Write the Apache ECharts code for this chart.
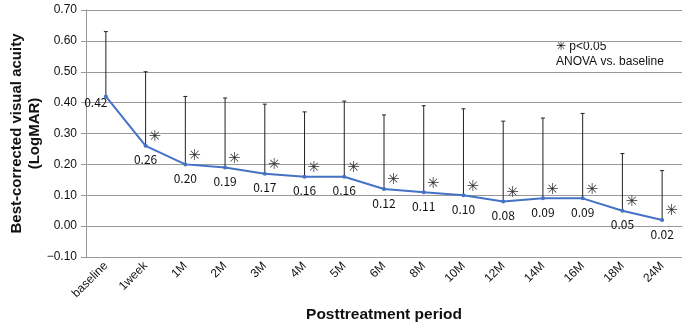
<!DOCTYPE html>
<html>
<head>
<meta charset="utf-8">
<script src="https://cdn.jsdelivr.net/npm/echarts@6/dist/echarts.min.js"></script>
<style>html,body{margin:0;padding:0;background:#fff}#c{width:685px;height:325px}</style>
</head>
<body>
<div id="c"></div>
<script>
var periods = ['baseline', '1week', '1M', '2M', '3M', '4M', '5M', '6M', '8M', '10M', '12M', '14M', '16M', '18M', '24M'];
var meanVA = [0.42, 0.26, 0.20, 0.19, 0.17, 0.16, 0.16, 0.12, 0.11, 0.10, 0.08, 0.09, 0.09, 0.05, 0.02];
var sdVA = [0.21, 0.24, 0.22, 0.225, 0.225, 0.21, 0.245, 0.24, 0.28, 0.28, 0.26, 0.26, 0.275, 0.185, 0.16];
var signif = [0, 1, 1, 1, 1, 1, 1, 1, 1, 1, 1, 1, 1, 1, 1];
var yTicks = [-0.1, 0.7, 0.1];

var myChart = echarts.init(document.getElementById('c'));
var errData = meanVA.map(function (v, i) { return [i, v, v + sdVA[i], signif[i]]; });

var option = {
  animation: false,
  textStyle: { fontFamily: 'Liberation Sans' },
  grid: { left: 86, right: 3, top: 10, bottom: 68, outerBoundsMode: 'none' },
  graphic: [{
    type: 'text', left: 556, top: 39,
    style: { text: '\u2733 p<0.05\nANOVA vs. baseline', font: '12px Liberation Sans', fill: '#111', lineHeight: 15 }
  }],
  xAxis: {
    type: 'category', data: periods,
    name: 'Posttreatment period', nameLocation: 'middle', nameGap: 48,
    nameTextStyle: { fontSize: 15.5, fontWeight: 'bold', color: '#111' },
    axisLine: { lineStyle: { color: '#999' } },
    axisTick: { lineStyle: { color: '#999' } },
    axisLabel: { rotate: 45, fontSize: 12, color: '#111', margin: 7 }
  },
  yAxis: {
    type: 'value', min: yTicks[0], max: yTicks[1], interval: yTicks[2],
    name: 'Best-corrected visual acuity\n(LogMAR)', nameLocation: 'middle', nameRotate: 90, nameGap: 42,
    nameMoveOverlap: false,
    nameTextStyle: { fontSize: 15, fontWeight: 'bold', color: '#111', lineHeight: 18 },
    axisLine: { show: true, lineStyle: { color: '#999' } },
    axisTick: { show: true, lineStyle: { color: '#999' } },
    splitLine: { lineStyle: { color: '#999' } },
    axisLabel: { fontSize: 12, color: '#111', margin: 9, formatter: function (v) { return v.toFixed(2).replace('-', '\u2212'); } }
  },
  series: [{
    type: 'custom',
    data: errData,
    z: 1,
    renderItem: function (params, api) {
      var p0 = api.coord([api.value(0), api.value(1)]);
      var p1 = api.coord([api.value(0), api.value(2)]);
      var kids = [
        { type: 'line', shape: { x1: p0[0], y1: p0[1], x2: p1[0], y2: p1[1] }, style: { stroke: '#222', lineWidth: 1 } },
        { type: 'line', shape: { x1: p1[0] - 2, y1: p1[1], x2: p1[0] + 2, y2: p1[1] }, style: { stroke: '#222', lineWidth: 1 } }
      ];
      if (api.value(3)) {
        kids.push({ type: 'text', x: p0[0] + 3, y: p0[1] - 16,
          style: { text: '\u2733', font: 'bold 15px DejaVu Sans', fill: '#333' } });
      }
      return { type: 'group', children: kids };
    }
  }, {
    type: 'line', data: meanVA, z: 3,
    symbol: 'circle', symbolSize: 4,
    lineStyle: { color: '#4472C4', width: 2 },
    itemStyle: { color: '#4472C4' },
    label: {
      show: true, position: 'bottom', distance: 6, fontSize: 12, color: '#111',
      fontFamily: 'Noto Sans CJK JP',
      formatter: function (p) { return p.value.toFixed(2); }
    },
    labelLayout: function (p) {
      if (p.dataIndex === 0) return { dx: -10, dy: -8 };
      return {};
    }
  }]
};
myChart.setOption(option);
</script>
</body>
</html>
